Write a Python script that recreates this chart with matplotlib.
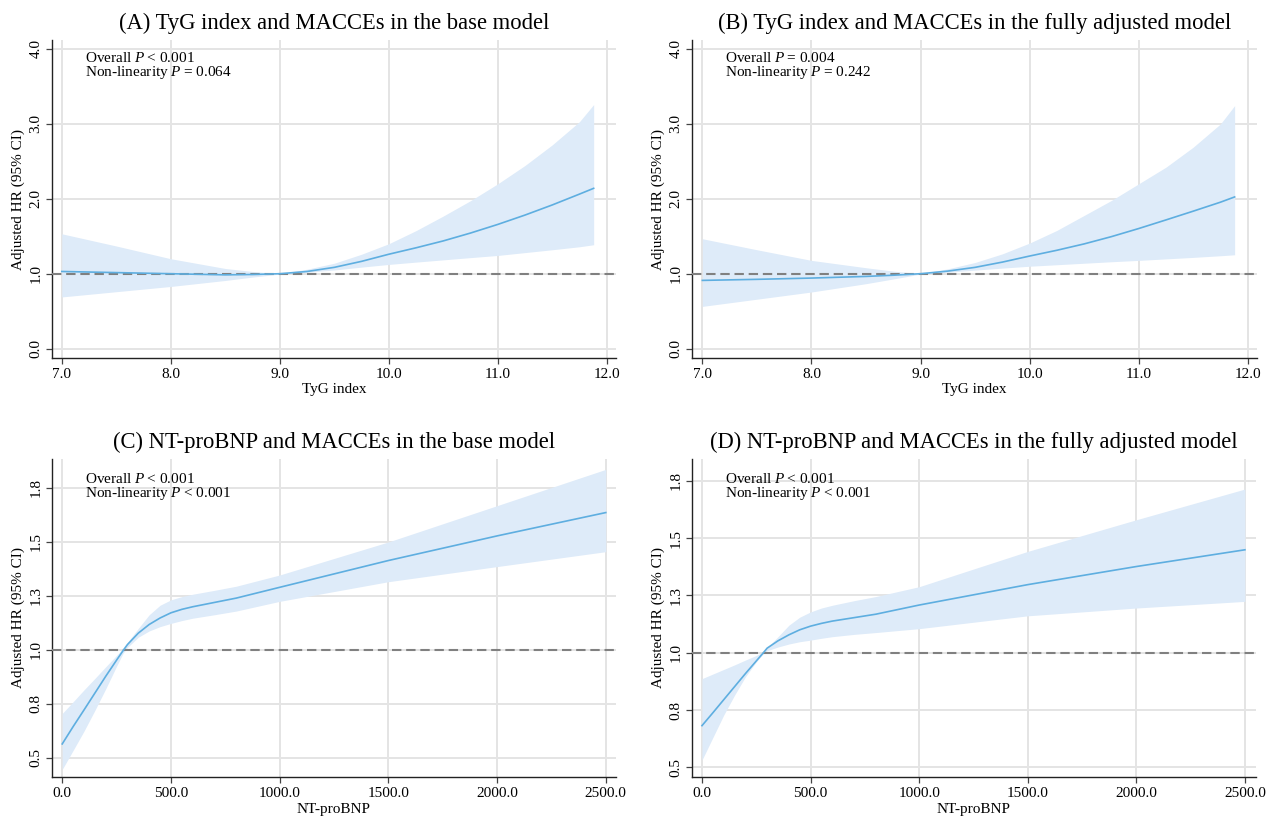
import matplotlib
matplotlib.use("Agg")
import matplotlib.pyplot as plt

plt.rcParams['font.family'] = ['Liberation Serif', 'DejaVu Serif']
plt.rcParams['mathtext.fontset'] = 'custom'
plt.rcParams['mathtext.rm'] = 'Liberation Serif'
plt.rcParams['mathtext.it'] = 'Liberation Serif:italic'

# ---------------- data ----------------
# Panel A: TyG index, base model
tyg_x_a = [7.0, 7.5, 8.0, 8.5, 8.75, 9.0, 9.25, 9.5, 9.75, 10.0, 10.25, 10.5, 10.75, 11.0, 11.25, 11.5, 11.75, 11.88]
hr_a = [1.03, 1.015, 1.0, 0.985, 0.99, 1.0, 1.03, 1.085, 1.165, 1.26, 1.346, 1.438, 1.543, 1.658, 1.783, 1.918, 2.063, 2.14]
hi_a = [1.533, 1.37, 1.2, 1.07, 1.03, 1.0, 1.06, 1.14, 1.26, 1.40, 1.575, 1.77, 1.975, 2.2, 2.445, 2.72, 3.03, 3.258]
lo_a = [0.69, 0.76, 0.83, 0.91, 0.955, 0.995, 1.02, 1.05, 1.088, 1.124, 1.155, 1.185, 1.215, 1.244, 1.282, 1.32, 1.36, 1.387]

# Panel B: TyG index, fully adjusted model
tyg_x_b = [7.0, 7.5, 8.0, 8.5, 8.75, 9.0, 9.25, 9.5, 9.75, 10.0, 10.25, 10.5, 10.75, 11.0, 11.25, 11.5, 11.75, 11.88]
hr_b = [0.911, 0.925, 0.942, 0.964, 0.98, 1.0, 1.035, 1.085, 1.155, 1.236, 1.313, 1.398, 1.495, 1.603, 1.718, 1.835, 1.955, 2.025]
hi_b = [1.467, 1.32, 1.178, 1.08, 1.035, 1.0, 1.065, 1.15, 1.265, 1.409, 1.578, 1.778, 1.978, 2.2, 2.422, 2.689, 3.0, 3.244]
lo_b = [0.564, 0.66, 0.756, 0.867, 0.93, 0.995, 1.02, 1.048, 1.075, 1.10, 1.12, 1.14, 1.16, 1.178, 1.198, 1.218, 1.24, 1.253]

# Panel C: NT-proBNP, base model
bnp_x = [0, 50, 100, 150, 200, 250, 280, 300, 350, 400, 450, 500, 550, 600, 700, 800, 1000, 1500, 2000, 2500]
hr_c = [0.565, 0.645, 0.722, 0.80, 0.878, 0.953, 0.997, 1.025, 1.078, 1.118, 1.148, 1.172, 1.188, 1.20, 1.22, 1.24, 1.29, 1.414, 1.528, 1.636]
hi_c = [0.706, 0.76, 0.815, 0.868, 0.922, 0.975, 1.008, 1.035, 1.10, 1.163, 1.207, 1.232, 1.247, 1.258, 1.276, 1.295, 1.347, 1.50, 1.668, 1.836]
lo_c = [0.447, 0.535, 0.624, 0.72, 0.82, 0.925, 0.985, 1.012, 1.059, 1.088, 1.108, 1.123, 1.136, 1.147, 1.163, 1.18, 1.225, 1.316, 1.386, 1.455]

# Panel D: NT-proBNP, fully adjusted model
hr_d = [0.682, 0.738, 0.795, 0.852, 0.909, 0.964, 0.997, 1.02, 1.052, 1.078, 1.10, 1.116, 1.128, 1.138, 1.153, 1.168, 1.208, 1.297, 1.376, 1.449]
hi_d = [0.887, 0.907, 0.927, 0.947, 0.968, 0.988, 1.003, 1.022, 1.07, 1.12, 1.155, 1.178, 1.195, 1.207, 1.227, 1.245, 1.288, 1.442, 1.58, 1.714]
lo_d = [0.532, 0.63, 0.728, 0.815, 0.895, 0.96, 0.993, 1.009, 1.025, 1.038, 1.048, 1.055, 1.063, 1.07, 1.08, 1.088, 1.105, 1.161, 1.195, 1.224]

titles = ["(A) TyG index and MACCEs in the base model",
          "(B) TyG index and MACCEs in the fully adjusted model",
          "(C) NT-proBNP and MACCEs in the base model",
          "(D) NT-proBNP and MACCEs in the fully adjusted model"]
xlabels = ["TyG index", "TyG index", "NT-proBNP", "NT-proBNP"]
overall_p = ["Overall $P$\u2009< 0.001", "Overall $P$\u2009= 0.004",
             "Overall $P$\u2009< 0.001", "Overall $P$\u2009< 0.001"]
nonlin_p = ["Non-linearity $P$\u2009= 0.064", "Non-linearity $P$\u2009= 0.242",
            "Non-linearity $P$\u2009< 0.001", "Non-linearity $P$\u2009< 0.001"]

tyg_ticks = [7.0, 8.0, 9.0, 10.0, 11.0, 12.0]
tyg_ticklabels = ["7.0", "8.0", "9.0", "10.0", "11.0", "12.0"]
tyg_yticks = [0.0, 1.0, 2.0, 3.0, 4.0]
tyg_yticklabels = ["0.0", "1.0", "2.0", "3.0", "4.0"]
bnp_ticks = [0, 500, 1000, 1500, 2000, 2500]
bnp_ticklabels = ["0.0", "500.0", "1000.0", "1500.0", "2000.0", "2500.0"]
bnp_yticks = [0.5, 0.75, 1.0, 1.25, 1.5, 1.75]
bnp_yticklabels = ["0.5", "0.8", "1.0", "1.3", "1.5", "1.8"]

# ---------------- figure ----------------
W, H = 1268, 818
fig = plt.figure(figsize=(W / 100, H / 100), dpi=100)

def box(l, r, t, b):
    return [l / W, 1 - b / H, (r - l) / W, (b - t) / H]

boxes = [box(52, 616, 40, 358), box(692, 1257, 40, 358),
         box(52, 616, 459, 777), box(692, 1256, 459, 777)]
xlims = [(6.91, 12.085), (6.905, 12.085), (-47, 2547), (-46, 2551)]
ylims = [(-0.125, 4.12), (-0.125, 4.12), (0.412, 1.884), (0.458, 1.845)]

panels = [(tyg_x_a, hr_a, hi_a, lo_a), (tyg_x_b, hr_b, hi_b, lo_b),
          (bnp_x, hr_c, hi_c, lo_c), (bnp_x, hr_d, hi_d, lo_d)]

fill_col = "#deebf9"
line_col = "#5eaee0"
grid_col = "#e4e4e4"

for i, (x, hr, hi, lo) in enumerate(panels):
    ax = fig.add_axes(boxes[i])
    ax.fill_between(x, lo, hi, color=fill_col, lw=0, zorder=2)
    ax.axhline(1.0, color="#808080", lw=1.5, ls=(0, (4.5, 2.3)), zorder=3)
    ax.plot(x, hr, color=line_col, lw=1.2, zorder=4)
    ax.set_xlim(*xlims[i])
    ax.set_ylim(*ylims[i])
    if i < 2:
        ax.set_xticks(tyg_ticks)
        ax.set_xticklabels(tyg_ticklabels)
        ax.set_yticks(tyg_yticks)
        ax.set_yticklabels(tyg_yticklabels, rotation=90, va="center")
    else:
        ax.set_xticks(bnp_ticks)
        ax.set_xticklabels(bnp_ticklabels)
        ax.set_yticks(bnp_yticks)
        ax.set_yticklabels(bnp_yticklabels, rotation=90, va="center")
    ax.grid(True, color=grid_col, lw=1.4, zorder=0)
    ax.set_axisbelow(True)
    for s in ["top", "right"]:
        ax.spines[s].set_visible(False)
    for s in ["left", "bottom"]:
        ax.spines[s].set_color("#222222")
        ax.spines[s].set_linewidth(1.0)
    ax.tick_params(axis="both", direction="out", length=4, width=0.9,
                   color="#444444", labelsize=11, pad=3)
    ax.set_xlabel(xlabels[i], fontsize=11, labelpad=2)
    ax.set_ylabel("Adjusted HR (95% CI)", fontsize=11, labelpad=3)
    ax.set_title(titles[i], fontsize=16.3, pad=8)
    ytop = 0.931 if i < 2 else 0.925
    ax.text(0.0585, ytop, overall_p[i], transform=ax.transAxes,
            fontsize=11, va="baseline", ha="left", zorder=5)
    ax.text(0.0585, ytop - 0.044, nonlin_p[i], transform=ax.transAxes,
            fontsize=11, va="baseline", ha="left", zorder=5)

fig.savefig("out.png", dpi=100, facecolor="white")
